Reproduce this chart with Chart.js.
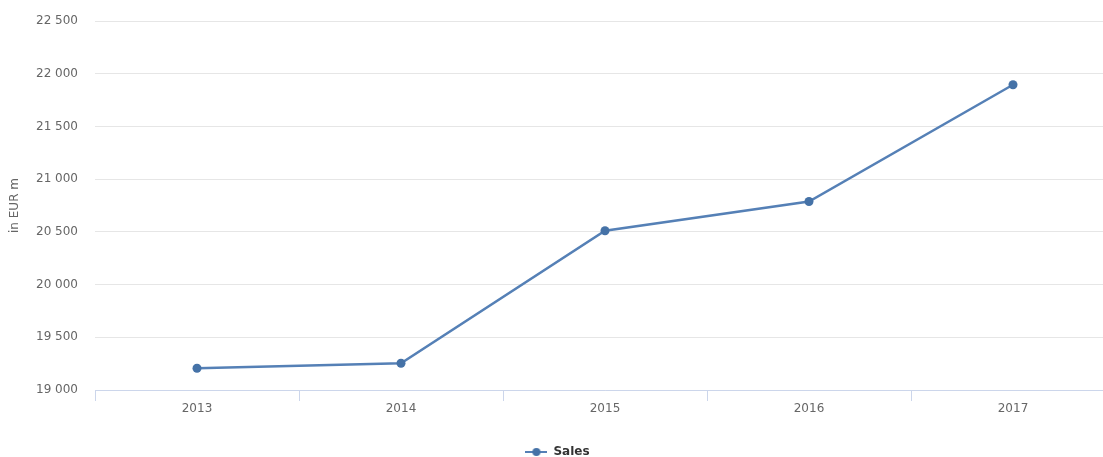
<!DOCTYPE html>
<html>
<head>
<meta charset="utf-8">
<script src="https://cdn.jsdelivr.net/npm/chart.js@4/dist/chart.umd.min.js"></script>
<style>
  html, body { margin: 0; padding: 0; background: #fff; overflow: hidden; }
  #wrap { width: 1120px; height: 457px; position: relative; }
</style>
</head>
<body>
<div id="wrap"><canvas id="c" width="1120" height="457"></canvas></div>
<script>
const categories = ['2013', '2014', '2015', '2016', '2017'];
const salesValues = [19206, 19254, 20510, 20788, 21895];
const seriesName = 'Sales';
const yTitle = 'in EUR m';
const yMin = 19000, yMax = 22500, yStep = 500;

const lineColor = '#5580b6';
const pointColor = '#4572a7';

// legend symbol: short line with a dot
const sym = document.createElement('canvas');
sym.width = 22; sym.height = 10;
(function () {
  const g = sym.getContext('2d');
  g.strokeStyle = lineColor; g.lineWidth = 2;
  g.beginPath(); g.moveTo(0, 5); g.lineTo(22, 5); g.stroke();
  g.fillStyle = pointColor;
  g.beginPath(); g.arc(11, 5, 4, 0, Math.PI * 2); g.fill();
})();

Chart.defaults.font.family = '"DejaVu Sans", Verdana, sans-serif';
Chart.defaults.font.size = 12;
Chart.defaults.color = '#666666';

new Chart(document.getElementById('c'), {
  type: 'line',
  data: {
    labels: categories,
    datasets: [{
      label: seriesName,
      data: salesValues,
      borderColor: lineColor,
      backgroundColor: pointColor,
      borderWidth: 2.5,
      pointRadius: 4.5,
      pointHoverRadius: 5,
      pointBackgroundColor: pointColor,
      pointBorderWidth: 0,
      tension: 0,
      fill: false
    }]
  },
  options: {
    responsive: false,
    animation: false,
    layout: { padding: { top: 21, right: 5, left: 0, bottom: -11 } },
    plugins: {
      tooltip: { enabled: false },
      legend: {
        position: 'bottom',
        labels: {
          usePointStyle: true,
          pointStyleWidth: 22,
          color: '#333333',
          font: { size: 12, weight: 'bold' },
          padding: 0,
          generateLabels: (chart) => [{
            text: seriesName,
            pointStyle: sym,
            fillStyle: pointColor,
            strokeStyle: pointColor,
            lineWidth: 0,
            datasetIndex: 0,
            fontColor: '#333333'
          }]
        }
      }
    },
    scales: {
      x: {
        offset: true,
        grid: {
          offset: true,
          drawOnChartArea: false,
          drawTicks: true,
          tickLength: 11,
          color: '#ccd6eb',
          lineWidth: 1
        },
        border: { display: true, color: '#ccd6eb', width: 1 },
        ticks: { color: '#666666', padding: 1, font: { size: 12 }, maxRotation: 0 },
        afterFit: (s) => { s.height = 56; }
      },
      y: {
        min: yMin,
        max: yMax,
        grid: { color: '#e6e6e6', drawTicks: true, tickLength: 17, tickColor: 'rgba(0,0,0,0)', lineWidth: 1 },
        border: { display: false },
        title: {
          display: true,
          text: yTitle,
          color: '#666666',
          font: { size: 12 },
          padding: { top: 8, bottom: 0 }
        },
        ticks: {
          stepSize: yStep,
          padding: 0,
          color: '#666666',
          font: { size: 12 },
          callback: (v) => String(v).replace(/\B(?=(\d{3})+(?!\d))/g, ' ')
        },
        afterFit: (s) => { s.width = 95; }
      }
    }
  }
});
</script>
</body>
</html>
